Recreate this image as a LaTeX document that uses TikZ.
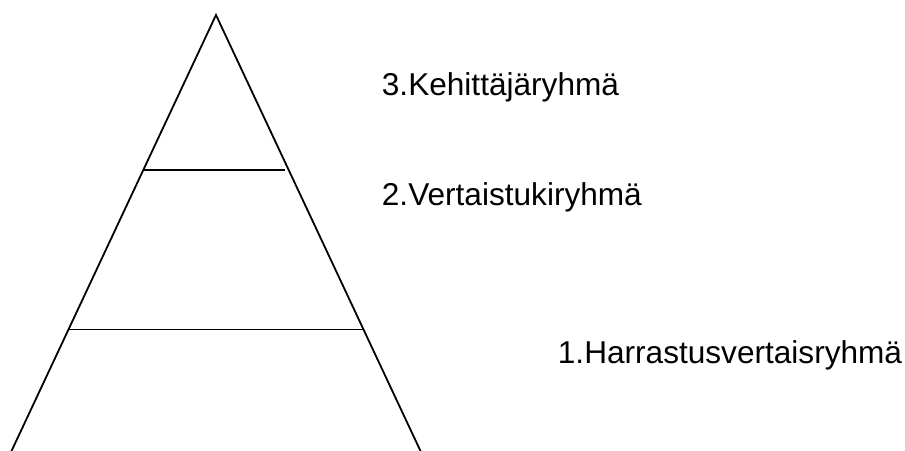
\documentclass[tikz,border=0pt]{standalone}
\usepackage{fontspec}
\setmainfont{Liberation Sans}
\usetikzlibrary{positioning}

\begin{document}
\begin{tikzpicture}[x=1pt, y=-1pt, line width=1.8pt,
			level/.style={anchor=base west, inner sep=0pt, font=\fontsize{31.6}{38}\selectfont}]
			\useasboundingbox (0, 0) rectangle (905, 450);
			
			\coordinate (top) at (216, 15);
			\coordinate (left) at (11.5, 451);
			\coordinate (right) at (420.5, 451);
			\draw (left) -- (top) -- (right);
			
			\coordinate (cut2w) at (142.5, 170);
			\coordinate (cut2e) at (285, 170);
			\draw (cut2w) -- (cut2e);
			
			\coordinate (cut1w) at (68.5, 329.5);
			\coordinate (cut1e) at (363, 329.5);
			\draw (cut1w) -- (cut1e);
			
			\node[level](group3) at (381, 95) {3.Kehittäjäryhmä};
			\node[level](group2) at (381, 205) {2.Vertaistukiryhmä};
			\node[level](group1) at (557, 363) {1.Harrastusvertaisryhmä};
			\end{tikzpicture}
\end{document}
